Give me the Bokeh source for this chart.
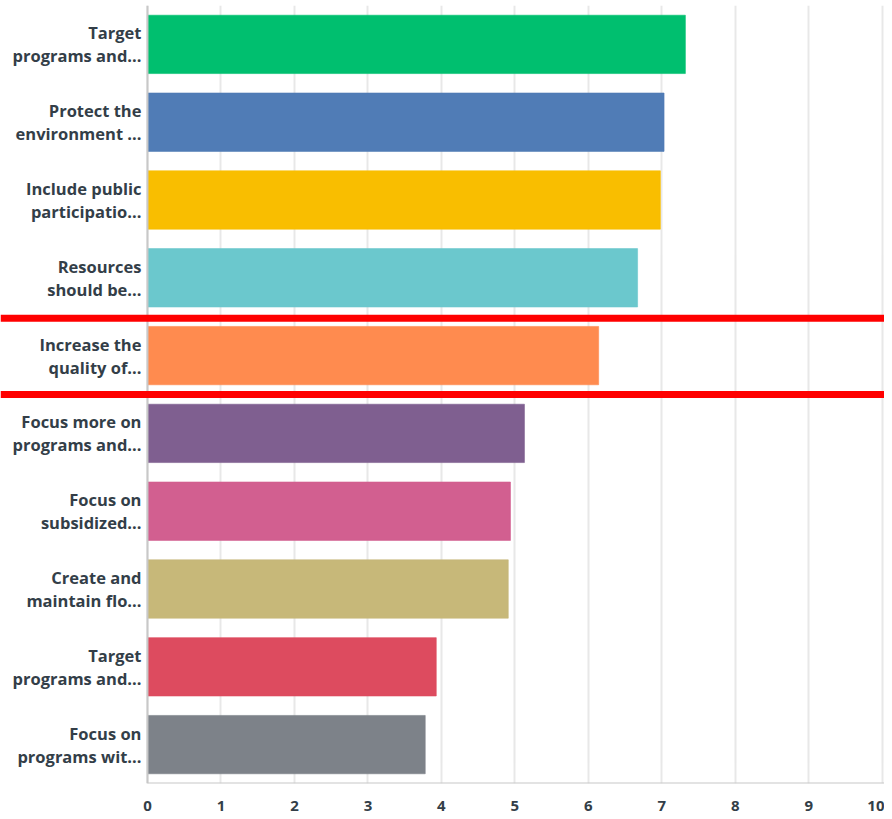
from bokeh.plotting import figure
from bokeh.models import Range1d, FixedTicker, Span
from bokeh.core.properties import value
from bokeh.embed import file_html
from bokeh.resources import INLINE
import numpy as np

categories = [
    "Target\nprograms and...",
    "Protect the\nenvironment ...",
    "Include public\nparticipatio...",
    "Resources\nshould be...",
    "Increase the\nquality of...",
    "Focus more on\nprograms and...",
    "Focus on\nsubsidized...",
    "Create and\nmaintain flo...",
    "Target\nprograms and...",
    "Focus on\nprograms wit...",
]
values = [7.32, 7.03, 6.98, 6.67, 6.14, 5.13, 4.94, 4.91, 3.93, 3.78]
colors = ["#00bf6f", "#507cb6", "#f9be00", "#6bc8cd", "#ff8b4f",
          "#7f5f90", "#d25f90", "#c7b879", "#dd4b5f", "#7d8289"]
x_ticks = list(range(0, 11))
x_max = 10
highlight_edges = [4.02, 5.0]

n = len(categories)
ypos = list(np.arange(n) + 0.5)

p = figure(width=884, height=811, output_backend="svg", toolbar_location=None,
           x_range=Range1d(-2.0, 10.03), y_range=Range1d(n, 0),
           y_axis_location=None,
           min_border_left=0, min_border_right=0, min_border_top=5,
           min_border_bottom=28)
p.frame_height = 778
p.outline_line_color = None
p.background_fill_color = "white"

p.xaxis.ticker = FixedTicker(ticks=x_ticks)
p.xgrid.grid_line_color = "#e8e8e8"
p.xgrid.grid_line_width = 2
p.ygrid.grid_line_color = None

p.hbar(y=ypos, left=0, right=values, height=0.75, fill_color=colors,
       line_color=colors, line_alpha=0.6)

# axis lines
p.segment(x0=[0, 0], y0=[0, n], x1=[0, x_max + 0.03], y1=[n, n],
          line_color="#c8c8c8", line_width=2)

# category labels
p.text(x=[0] * n, y=ypos, text=categories, x_offset=-6,
       text_align="right", text_baseline="middle",
       text_font=value("Open Sans"), text_font_style="bold",
       text_font_size="16.5px", text_color="#333e48", text_line_height=1.0)

# x axis
p.xaxis.major_tick_line_color = None
p.xaxis.minor_tick_line_color = None
p.xaxis.axis_line_color = None
p.xaxis.major_label_standoff = 11
p.xaxis.major_label_text_font = "Open Sans"
p.xaxis.major_label_text_font_style = "bold"
p.xaxis.major_label_text_font_size = "15px"
p.xaxis.major_label_text_color = "#333e48"

for e in highlight_edges:
    p.add_layout(Span(location=e, dimension="width", line_color="#ff0000",
                      line_width=7, level="overlay"))

open("out.html", "w").write(file_html(p, INLINE))
